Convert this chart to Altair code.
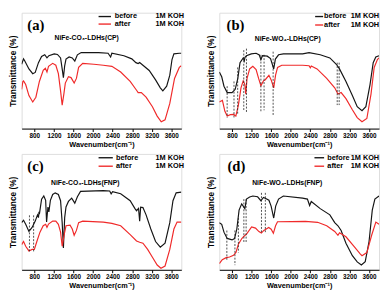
import altair as alt
import pandas as pd

XMIN, XMAX = 540, 3805
TICKS = [800, 1200, 1600, 2000, 2400, 2800, 3200, 3600]
SERIES = ["before", "after"]
COLORS = ["#151515", "#f02a2a"]

# ---- panel (a) NiFe-CO3-LDHs(CP)
a_before_wn = [540, 579, 605, 689, 767, 818, 884, 948, 1012, 1058, 1097, 1206, 1272, 1336, 1369, 1394, 1420, 1447, 1511, 1575, 1627, 1680, 1757, 2113, 2307, 2359, 2385, 2631, 2792, 2876, 2922, 2953, 3020, 3148, 3278, 3375, 3427, 3505, 3569, 3614, 3653, 3763, 3805]
a_before_t = [55.5, 60.2, 58.3, 51.5, 47.4, 48.5, 56.9, 62.3, 63.7, 61, 62.9, 64.5, 64, 61, 51.5, 43.9, 54.2, 60, 61.8, 61, 58.3, 63.7, 65.6, 65.6, 65, 61.8, 65, 62.9, 60.2, 56.9, 56.1, 57, 54.7, 50.2, 42, 35.2, 32.5, 36.6, 46.1, 59.6, 64.5, 65, 65]
a_after_wn = [540, 565, 579, 623, 689, 767, 831, 903, 981, 1025, 1058, 1090, 1175, 1239, 1291, 1336, 1369, 1403, 1433, 1497, 1550, 1614, 1660, 1705, 1789, 2016, 2210, 2385, 2565, 2759, 2889, 2922, 2987, 3084, 3214, 3311, 3394, 3472, 3569, 3666, 3763, 3805]
a_after_t = [33.9, 40.7, 41.2, 38, 28.5, 23, 27.1, 40.7, 50.2, 52, 48.8, 53.7, 56.3, 54.7, 47.4, 32.5, 20.3, 29.8, 39.3, 44.7, 44, 39.3, 43.3, 52.8, 56.3, 55.5, 54.7, 53.7, 48.8, 40.7, 33.1, 31.1, 31.1, 27.1, 18.9, 10.8, 5.9, 7.6, 21.7, 43.3, 52.8, 54.2]

# ---- panel (b) NiFe-WO4-LDHs(CP)
b_before_wn = [540, 589, 635, 701, 800, 865, 918, 963, 1028, 1050, 1065, 1095, 1193, 1292, 1357, 1390, 1423, 1520, 1587, 1652, 1686, 1751, 1849, 2243, 2375, 2603, 2800, 2932, 2997, 3129, 3260, 3359, 3457, 3536, 3621, 3686, 3739, 3805]
b_before_t = [48.8, 44.7, 36.6, 31.1, 31.1, 33.9, 43.3, 56.9, 61, 58.5, 61.5, 62.9, 64.5, 65, 63.5, 59.6, 62.9, 62.5, 60.5, 51.5, 60, 63.7, 64.5, 64.5, 65.6, 63.7, 61, 55.5, 51.5, 40.7, 28.5, 18.9, 15.4, 18.9, 38, 56.9, 61.8, 62.9]
b_after_wn = [540, 603, 654, 701, 766, 832, 878, 930, 983, 1028, 1062, 1081, 1107, 1160, 1225, 1292, 1343, 1390, 1442, 1475, 1554, 1600, 1652, 1690, 1731, 1816, 2243, 2375, 2400, 2420, 2538, 2735, 2899, 2965, 3030, 3129, 3260, 3359, 3457, 3556, 3641, 3706, 3772, 3805]
b_after_t = [23, 24.4, 14.9, 10.8, 12, 12.2, 10.8, 20.3, 35.2, 41.2, 38, 29.8, 43.3, 51.5, 53.7, 51, 43.3, 37, 41.2, 42, 46, 42, 35.2, 46.1, 52.8, 54.7, 54.7, 54.2, 52.5, 54, 51.5, 43.3, 35.2, 29.8, 31.1, 25.8, 16.3, 9.5, 5.9, 8.7, 29.8, 52.8, 59.6, 61]
b_dash_wn = [700, 840, 915, 1040, 1095, 1390, 1455, 1640, 2950, 2990]
b_dash_top = [36.6, 40.7, 52.8, 67.7, 69, 63.7, 63.7, 66.4, 56.9, 56.9]
b_dash_bot = [9.5, 9.5, 12.2, 14.9, 13.8, 14.9, 15.8, 10.8, 20.3, 20.3]

# ---- panel (c) NiFe-CO3-LDHs(FNP)
c_before_wn = [540, 579, 623, 689, 754, 818, 864, 884, 895, 903, 948, 993, 1031, 1050, 1078, 1097, 1128, 1175, 1226, 1291, 1336, 1369, 1394, 1420, 1447, 1497, 1563, 1627, 1680, 1744, 2210, 2340, 2370, 2400, 2565, 2759, 2857, 2889, 2930, 2953, 2973, 3020, 3084, 3181, 3278, 3375, 3472, 3569, 3634, 3699, 3805]
c_before_t = [40.7, 42.8, 39.3, 33.1, 36.6, 42, 47.4, 45, 50, 48, 61, 63.7, 60, 41.2, 54.2, 50, 60, 65, 66.4, 65, 59.6, 40.7, 18.9, 45, 54.2, 59, 61.8, 57.5, 63, 67.7, 68.3, 68, 65.6, 67.5, 65.6, 59.6, 52.8, 51, 53, 42, 54, 53.7, 47.4, 35.2, 24.4, 19.5, 23, 40.7, 59.6, 66.4, 67]
c_after_wn = [540, 579, 623, 689, 754, 800, 851, 915, 981, 1031, 1058, 1090, 1175, 1239, 1291, 1336, 1369, 1408, 1447, 1530, 1575, 1614, 1660, 1705, 1789, 2210, 2385, 2565, 2759, 2889, 2953, 3020, 3116, 3214, 3311, 3388, 3472, 3569, 3653, 3718, 3805]
c_after_t = [21.7, 24.4, 20.3, 16.3, 17.6, 17.6, 24.4, 32.5, 38, 39.3, 36.6, 39.5, 42, 42, 39.3, 32.5, 20.3, 30, 38, 38.5, 35.2, 29.8, 34, 40.7, 42, 41.2, 40.1, 38, 30.4, 24.9, 23.8, 23, 17.6, 10.8, 4.1, 1.4, 3.3, 17.6, 35.2, 41.2, 41.2]
c_dash_wn = [700, 785]
c_dash_top = [47, 47]
c_dash_bot = [15, 15]

# ---- panel (d) NiFe-WO4-LDHs(FNP)
d_before_wn = [540, 589, 635, 701, 800, 851, 898, 944, 997, 1028, 1062, 1095, 1160, 1225, 1323, 1390, 1442, 1489, 1554, 1599, 1652, 1692, 1751, 1849, 2243, 2341, 2386, 2420, 2603, 2800, 2899, 2965, 3030, 3129, 3260, 3359, 3444, 3523, 3601, 3667, 3720, 3805]
d_before_t = [40.7, 39.3, 32.5, 27.1, 25.8, 27, 35.2, 51.5, 56.9, 55, 52.8, 61, 62.9, 63.7, 63, 59.6, 62.5, 61.5, 60, 55, 44.7, 55, 61, 63.7, 61.8, 61, 55.5, 59, 52.8, 47.4, 40.7, 38, 33.9, 23, 12.2, 6.8, 4.1, 7, 24.4, 51.5, 61, 63.7]
d_after_wn = [540, 600, 680, 750, 830, 880, 930, 1000, 1045, 1100, 1200, 1280, 1350, 1400, 1450, 1550, 1600, 1645, 1690, 1730, 2300, 2550, 2735, 2899, 2965, 2997, 3129, 3293, 3424, 3457, 3556, 3654, 3740, 3805]
d_after_t = [5.4, 8.7, 10.5, 11, 12.5, 15, 22, 27, 29, 31, 37, 36, 33, 31.7, 34, 36.5, 35, 31.5, 38, 41.5, 41.8, 41, 38, 33.1, 29.8, 32, 28.5, 20.3, 13.6, 12.2, 14.9, 29.8, 41.2, 39.3]
d_dash_wn = [694, 859, 930, 1042, 1088, 1402, 1481]
d_dash_top = [33.9, 34, 44.7, 61, 61, 66.4, 66.4]
d_dash_bot = [8.1, 4, 14.9, 23, 24, 31.1, 32.5]

LEG_TEXT = ["before", "after"]
LEG_TEXT2 = ["1M KOH", "1M KOH"]

SANS = "Liberation Sans"
color_scale = alt.Scale(domain=SERIES, range=COLORS)
x_axis = alt.Axis(values=TICKS, format="d", title="Wavenumber(cm\u207b\u00b9)", grid=False,
                  labelFontSize=6.5, labelFontWeight="bold", labelFont=SANS, labelPadding=1,
                  tickSize=3, tickColor="black", domainColor="black", labelColor="black",
                  titleFontSize=7.5, titleFontWeight="bold", titleFont=SANS, titlePadding=2, titleColor="black")
y_axis = alt.Axis(labels=False, ticks=False, domain=False, grid=False, title="Transmittance (%)",
                  titleFontSize=8.5, titleFontWeight="bold", titleFont=SANS, titlePadding=4, titleColor="black")
x_scale = alt.Scale(domain=[XMIN, XMAX], nice=False, zero=False)
y_scale = alt.Scale(domain=[0, 100], nice=False, zero=False)


def X(f):
    return alt.X(f, type="quantitative", scale=x_scale, axis=x_axis)


def Y(f):
    return alt.Y(f, type="quantitative", scale=y_scale, axis=y_axis)


def panel(bw, bt, aw, at, dash, label, label_x, subtitle, sub_x, sub_y, leg):
    df = pd.concat([
        pd.DataFrame({"wn": bw, "T": bt, "series": "before"}),
        pd.DataFrame({"wn": aw, "T": at, "series": "after"}),
    ])
    lines = alt.Chart(df).mark_line(strokeWidth=1.2, clip=True).encode(
        x=X("wn"), y=Y("T"),
        color=alt.Color("series:N", scale=color_scale, legend=None),
        detail="series:N")
    layers = [lines]
    if dash is not None:
        ddf = pd.DataFrame({"wn": dash[0], "top": dash[1], "bot": dash[2]})
        layers.append(alt.Chart(ddf).mark_rule(strokeDash=[2, 1.5], strokeWidth=0.8, color="#222222").encode(
            x=X("wn"), y=Y("top"), y2="bot"))
    lx1, lx2, tx1, tx2, ly = leg
    ldf = pd.DataFrame({"series": SERIES, "x1": [lx1, lx1], "x2": [lx2, lx2], "y": ly,
                        "t1": LEG_TEXT, "t2": LEG_TEXT2, "tx1": [tx1, tx1], "tx2": [tx2, tx2]})
    layers.append(alt.Chart(ldf).mark_rule(strokeWidth=1.4).encode(
        x=X("x1"), x2="x2", y=Y("y"),
        color=alt.Color("series:N", scale=color_scale, legend=None)))
    layers.append(alt.Chart(ldf).mark_text(align="left", baseline="middle", font=SANS, fontWeight="bold",
                                           fontSize=7.5, color="black").encode(x=X("tx1"), y=Y("y"), text="t1:N"))
    layers.append(alt.Chart(ldf).mark_text(align="left", baseline="middle", font=SANS, fontWeight="bold",
                                           fontSize=7.5, color="black").encode(x=X("tx2"), y=Y("y"), text="t2:N"))
    sdf = pd.DataFrame({"x": [sub_x], "y": [sub_y], "t": [subtitle]})
    layers.append(alt.Chart(sdf).mark_text(align="center", baseline="middle", font=SANS, fontWeight="bold",
                                           fontSize=7, color="black").encode(x=X("x"), y=Y("y"), text="t:N"))
    pdf = pd.DataFrame({"x": [label_x], "y": [85.5], "t": [label]})
    layers.append(alt.Chart(pdf).mark_text(align="left", baseline="alphabetic", font="Liberation Serif",
                                           fontWeight="bold", fontSize=15, color="black").encode(
        x=X("x"), y=Y("y"), text="t:N"))
    return alt.layer(*layers).properties(width=164, height=119)


pa = panel(a_before_wn, a_before_t, a_after_wn, a_after_t, None, "(a)", 656,
           "NiFe-CO\u2083-LDHs(CP)", 1870, 78, (2113, 2366, 2443, 3278, [96.7, 90.2]))
pb = panel(b_before_wn, b_before_t, b_after_wn, b_after_t, (b_dash_wn, b_dash_top, b_dash_bot), "(b)", 688,
           "NiFe-WO\u2084-LDHs(CP)", 1938, 77, (2499, 2662, 2682, 3227, [96.7, 89.4]))
pc = panel(c_before_wn, c_before_t, c_after_wn, c_after_t, (c_dash_wn, c_dash_top, c_dash_bot), "(c)", 656,
           "NiFe-CO\u2083-LDHs(FNP)", 1841, 74.8, (2113, 2404, 2468, 3278, [96.7, 89.4]))
pd_ = panel(d_before_wn, d_before_t, d_after_wn, d_after_t, (d_dash_wn, d_dash_top, d_dash_bot), "(d)", 707,
            "NiFe-WO\u2084-LDHs(FNP)", 1928, 74.8, (2485, 2682, 2748, 3227, [96.7, 89.4]))

row1 = alt.hconcat(pa, pb, spacing=21)
row2 = alt.hconcat(pc, pd_, spacing=21)
chart = alt.vconcat(row1, row2, spacing=4).properties(
    padding={"left": 0, "top": 0, "right": 0, "bottom": 0}
).configure_view(stroke="black", strokeWidth=1).configure(background="white")

chart.save("out.html", embed_options={"renderer": "svg", "actions": False})
